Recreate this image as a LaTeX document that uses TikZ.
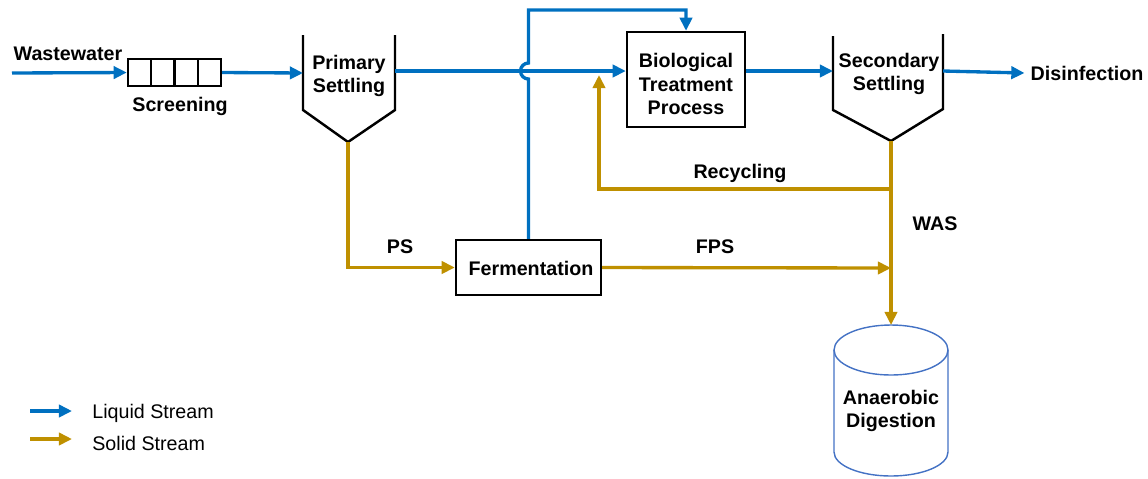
\documentclass[tikz,border=0pt]{standalone}
\usepackage{fontspec}
\setmainfont{Liberation Sans}
\usetikzlibrary{arrows.meta,positioning}
\definecolor{liquid}{RGB}{0,112,192}
\definecolor{solid}{RGB}{191,144,0}
\definecolor{tankline}{RGB}{68,114,196}

\begin{document}
\begin{tikzpicture}[x=0.02cm,y=-0.02cm,
  font=\fontsize{11.2}{13.2}\selectfont\bfseries,
  liq/.style={draw=liquid,line width=1.9pt},
  sol/.style={draw=solid,line width=1.9pt},
  tip/.style={-{Triangle[length=7.5pt,width=7pt]}},
  unit/.style={draw,line width=1.4pt,align=center,inner sep=0pt},
  wall/.style={line width=1.4pt,line join=miter},
  lbl/.style={align=center}]
  \useasboundingbox (0,0) rectangle (1148,478);

  % screening
  \node[unit,minimum width=1.86cm,minimum height=0.54cm] (scr) at (174.5,72.5) {};
  \foreach \x in {151,174.5,198}
    \draw[line width=1.4pt] (\x,59) -- (\x,86);
  \node[lbl] (scrl) at (180,106) {Screening};
  \node[lbl] (ww) at (68,54) {Wastewater};
  \coordinate (ww-in) at (12,73);

  % primary settling
  \draw[wall] (303,35) -- (303,110) -- (348,142) -- (395,110) -- (395,35);
  \node[lbl] (pst) at (349,76) {Primary\\Settling};
  \coordinate (pst-in) at (303,73);
  \coordinate (pst-out) at (395,71);
  \coordinate (pst-bot) at (348,142);

  % biological treatment
  \node[unit,minimum width=2.36cm,minimum height=1.9cm] (bio) at (686,79.5) {};
  \node[lbl] (biol) at (686,84) {Biological\\Treatment\\Process};

  % secondary settling
  \draw[wall] (833,36) -- (833,110) -- (891,141) -- (943,109) -- (943,34);
  \node[lbl] (sst) at (889,74) {Secondary\\Settling};
  \coordinate (sst-in) at (833,71);
  \coordinate (sst-out) at (943,71);
  \coordinate (sst-bot) at (891,141);
  \node[lbl] (dis) at (1087,73) {Disinfection};

  % fermentation
  \node[unit,minimum width=2.9cm,minimum height=1.1cm] (ferm) at (528.5,267.5) {};
  \node[lbl] (ferml) at (531,268) {Fermentation};

  % anaerobic digestion
  \draw[tankline,line width=0.8pt] (891,350) ellipse (57 and 25);
  \draw[tankline,line width=0.8pt] (834,350) -- (834,452) arc[start angle=180,end angle=360,x radius=57,y radius=-24] -- (948,350);
  \node[lbl] (ad) at (891,411) {Anaerobic\\Digestion};
  \coordinate (ad-top) at (891,325);

  % liquid stream
  \draw[liq,tip] (ww-in) -- (scr.west);
  \draw[liq,tip] (scr.east) -- (pst-in);
  \draw[liq,tip] (pst-out) -- (bio.west |- pst-out);
  \draw[liq,tip] (ferm.north) -- (528.5,79) arc[start angle=90,end angle=270,radius=8] -- (528.5,10) -| (bio.north);
  \draw[liq,tip] (bio.east |- sst-in) -- (sst-in);
  \draw[liq,tip] (sst-out) -- (dis.west);

  % solid stream
  \coordinate (rec-split) at (891,189);
  \coordinate (rec-end) at (599,75);
  \coordinate (fps-end) at (891,268);
  \draw[sol,tip] (pst-bot) |- (ferm.west);
  \draw[sol,tip] (ferm.east) -- (fps-end);
  \draw[sol,tip] (sst-bot) -- (ad-top);
  \draw[sol,tip] (rec-split) -| (rec-end);
  \node[lbl] (psl) at (400,247) {PS};
  \node[lbl] (fpsl) at (715,247) {FPS};
  \node[lbl] (recl) at (740,173) {Recycling};
  \node[lbl] (wasl) at (935,224) {WAS};

  % legend
  \coordinate (leg-a) at (30,411);
  \coordinate (leg-b) at (30,439);
  \draw[liq,tip] (leg-a) -- ++(42,0) coordinate (leg-a2);
  \draw[sol,tip] (leg-b) -- ++(42,0) coordinate (leg-b2);
  \node[anchor=west,inner sep=0pt,font=\fontsize{11.2}{13.2}\selectfont] (leg-liq) at (92,413) {Liquid Stream};
  \node[anchor=west,inner sep=0pt,font=\fontsize{11.2}{13.2}\selectfont] (leg-sol) at (92,443) {Solid Stream};
\end{tikzpicture}
\end{document}
